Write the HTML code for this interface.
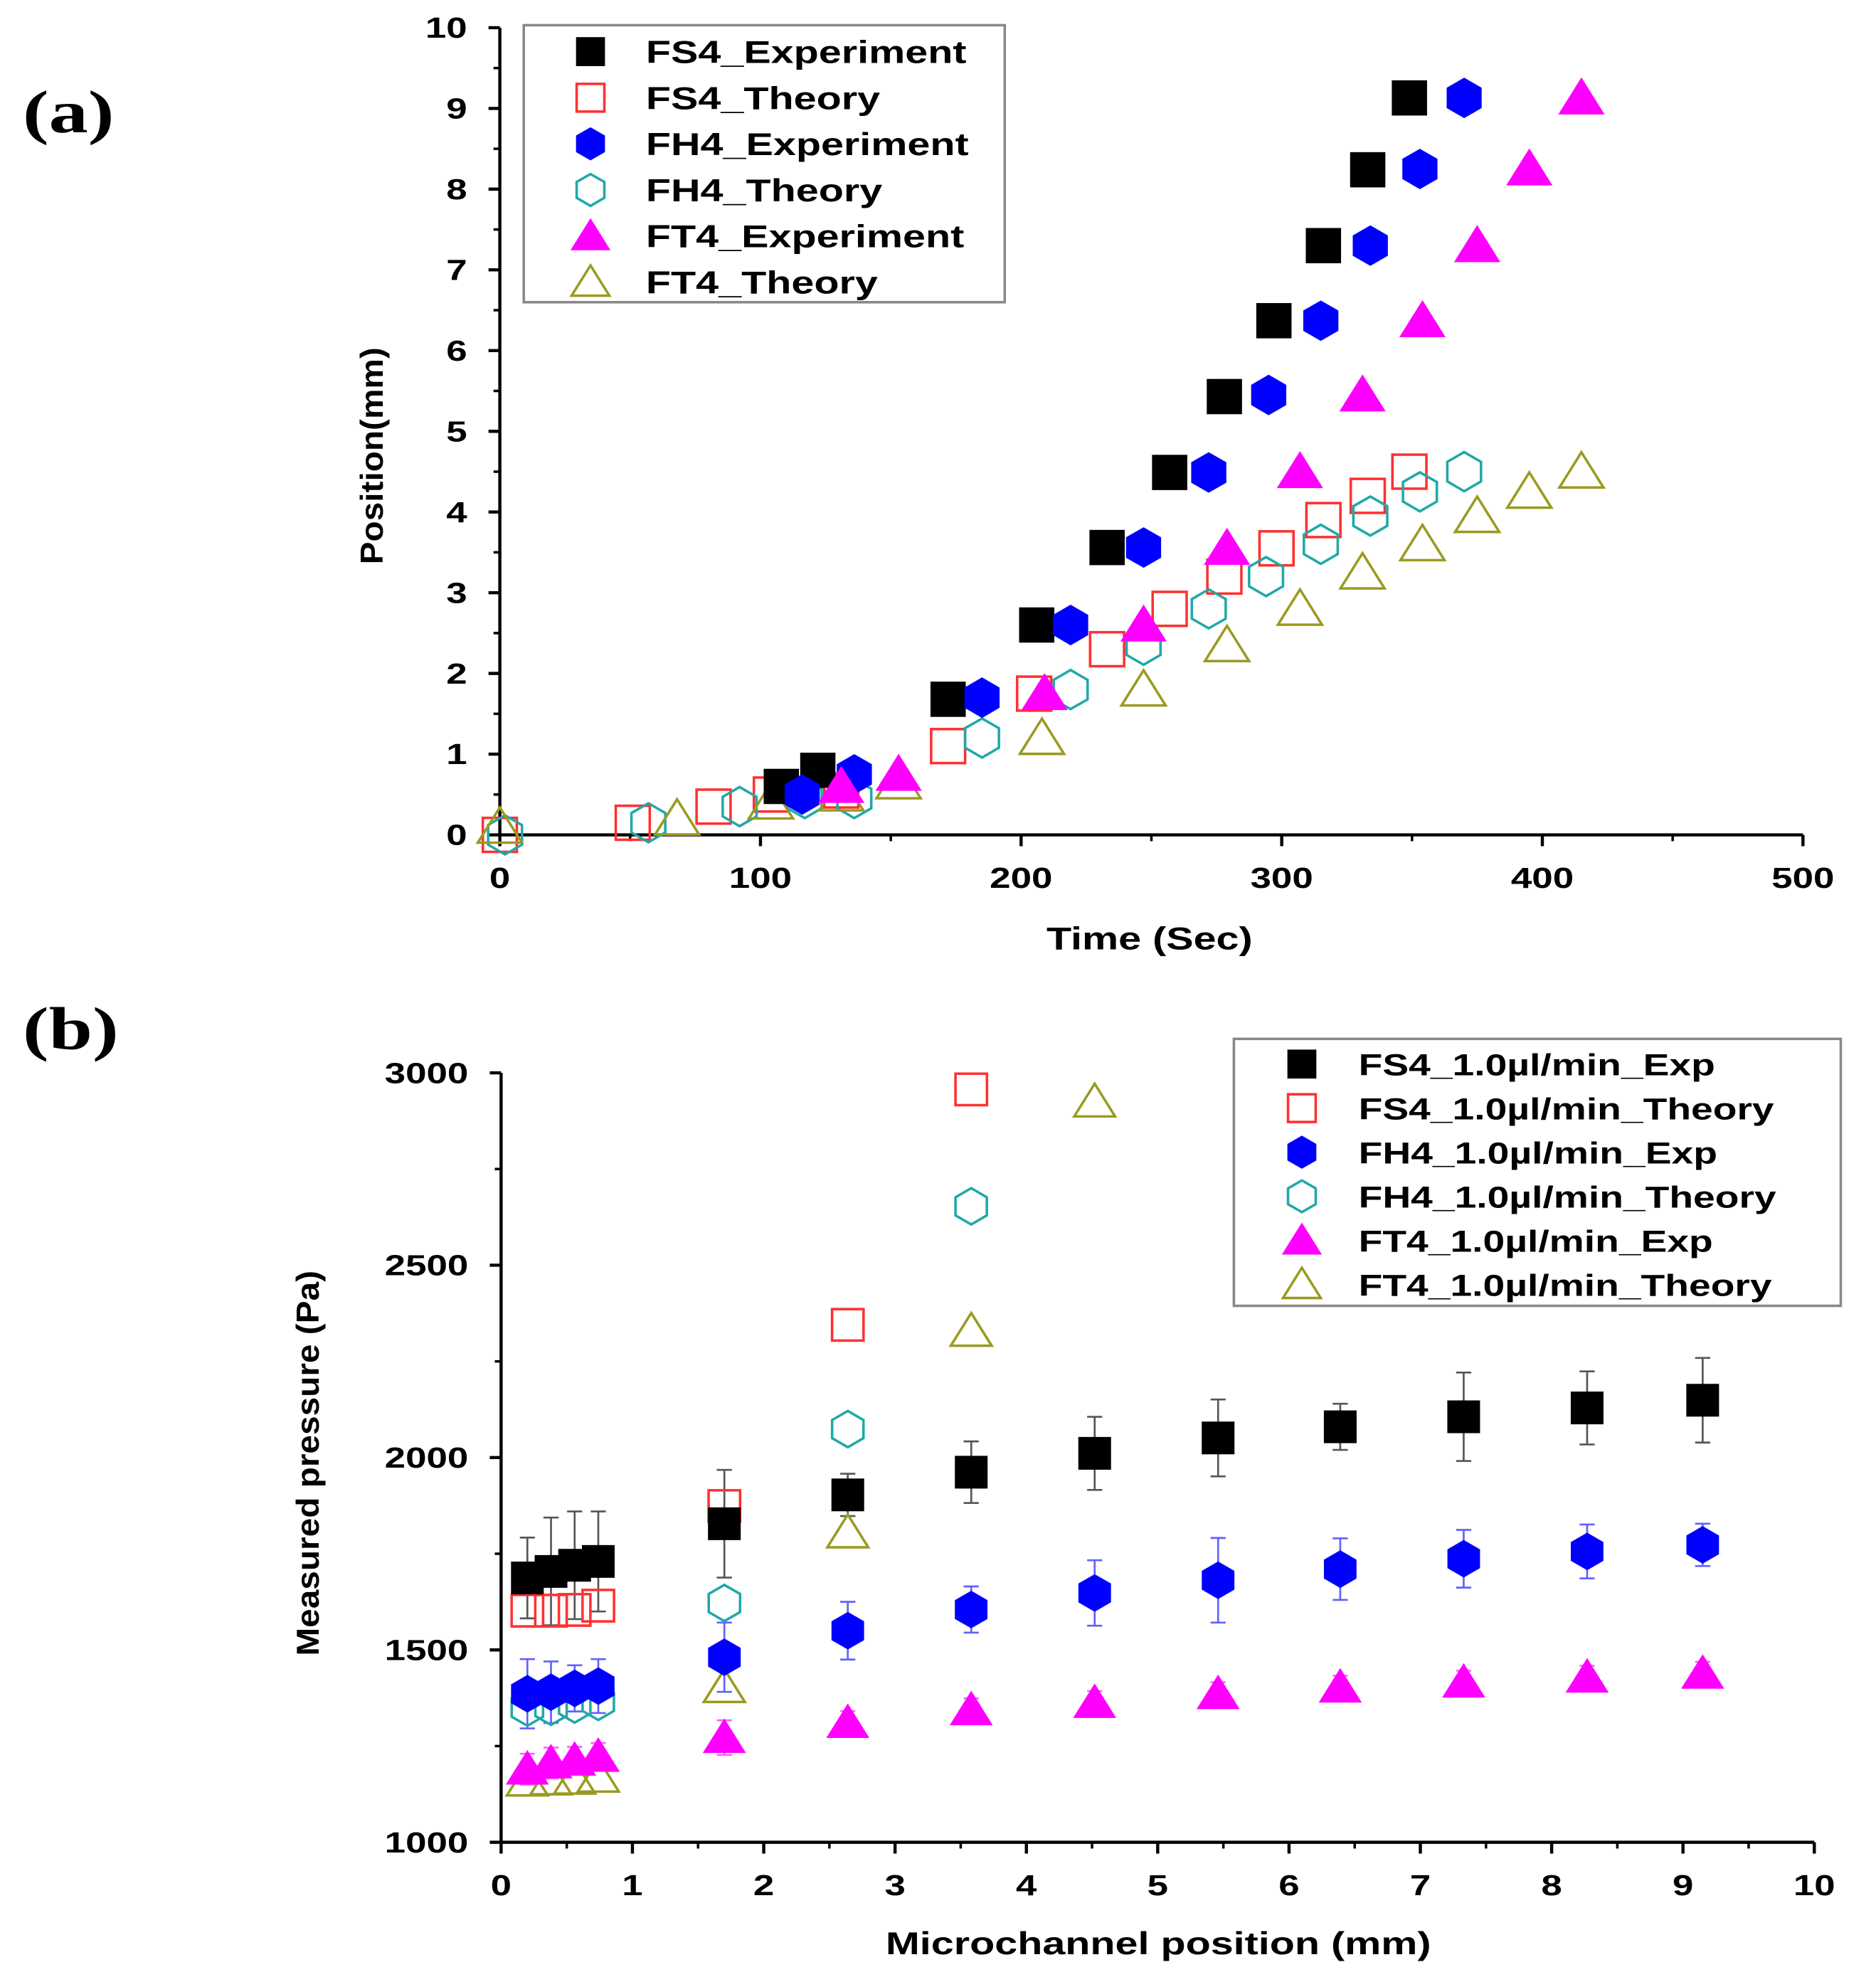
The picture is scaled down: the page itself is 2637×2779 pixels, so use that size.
<!DOCTYPE html>
<html><head><meta charset="utf-8"><style>
html,body{margin:0;padding:0;background:#fff}
svg{display:block}
text{font-family:"Liberation Sans",Arial,sans-serif;font-weight:bold;fill:#000}
</style></head><body>
<svg id="fig" width="2637" height="2779" viewBox="0 0 1490 1570" preserveAspectRatio="none" xmlns="http://www.w3.org/2000/svg">
<rect width="1490" height="1570" fill="#fff"/>
<text class="wide" x="18" y="105" style="font-family:'Liberation Serif',serif;font-size:48px">(a)</text>
<text class="wide" x="18" y="833" style="font-family:'Liberation Serif',serif;font-size:48px">(b)</text>
<g id="chartA"></g>
<g id="chartB"></g>
</svg>
<script>
// ---- Chart A data ----
const aXTicks=[0,100,200,300,400,500];
const aYTicks=[0,1,2,3,4,5,6,7,8,9,10];
const fs4ExpT=[108,122,172,206,233,257,278,297,316,333,349];
const fs4ExpP=[0.6,0.8,1.68,2.6,3.56,4.49,5.43,6.37,7.3,8.24,9.13];
const fs4ThT=[0,51,82,104,131,172,205,233,257,278,298,316,333,349];
const fs4ThP=[0,0.15,0.35,0.5,0.55,1.1,1.75,2.3,2.8,3.2,3.55,3.9,4.2,4.5];
const fh4ExpT=[116,136,185,219,247,272,295,315,334,353,370];
const fh4ExpP=[0.5,0.75,1.7,2.6,3.56,4.49,5.45,6.37,7.3,8.25,9.13];
const fh4ThT=[2,57,92,117,136,185,219,247,272,294,315,334,353,370];
const fh4ThP=[0,0.15,0.35,0.45,0.45,1.2,1.8,2.35,2.8,3.2,3.6,3.95,4.25,4.5];
const ft4ExpT=[131,153,209,247,279,307,331,354,375,395,415];
const ft4ExpP=[0.6,0.75,1.75,2.6,3.55,4.5,5.45,6.37,7.3,8.25,9.13];
const ft4ThT=[0,68,104,131,153,208,247,279,307,331,354,375,395,415];
const ft4ThP=[0.1,0.2,0.4,0.5,0.65,1.2,1.8,2.35,2.8,3.25,3.6,3.95,4.25,4.5];
// ---- Chart B data ----
const bXTicks=[0,1,2,3,4,5,6,7,8,9,10];
const bYTicks=[1000,1500,2000,2500,3000];
const bPos=[0.2,0.38,0.56,0.74,1.7,2.64,3.58,4.52,5.46,6.39,7.33,8.27,9.15];
const fs4ExpPa=[1687,1704,1720,1730,1828,1903,1962,2011,2051,2080,2106,2129,2149];
const fs4ExpErr=[105,140,140,130,140,55,80,95,100,60,115,95,110];
const fh4ExpPa=[1386,1390,1400,1406,1481,1550,1605,1648,1681,1710,1737,1756,1773];
const fh4ExpErr=[90,80,60,70,90,75,60,85,110,80,75,70,55];
const ft4ExpPa=[1190,1206,1213,1223,1272,1311,1344,1363,1386,1403,1416,1429,1439];
const ft4ExpErr=[40,40,35,35,45,30,30,30,30,30,30,30,30];
const bThPos=[0.2,0.38,0.56,0.74,1.7,2.64,3.58];
const fs4ThPa=[1602,1602,1604,1615,1874,2345,2957];
const fh4ThPa=[1350,1352,1358,1365,1622,2074,2653];
const ft4ThPos=[0.2,0.38,0.56,0.74,1.7,2.64,3.58,4.52];
const ft4ThPa=[1160,1163,1165,1170,1403,1805,2329,2925];

const NS="http://www.w3.org/2000/svg";
function mk(parent,tag,attrs){const e=document.createElementNS(NS,tag);for(const k in attrs)e.setAttribute(k,attrs[k]);parent.appendChild(e);return e;}
function marker(g,type,cx,cy,color,filled,r){
  let e;
  if(type==='sq'){e=mk(g,'rect',{x:cx-r,y:cy-r,width:2*r,height:2*r});}
  else if(type==='hex'){const p=[];for(let i=0;i<6;i++){const a=Math.PI/6+i*Math.PI/3;p.push((cx+r*1.15*Math.cos(a)).toFixed(1)+','+(cy+r*1.15*Math.sin(a)).toFixed(1));}e=mk(g,'polygon',{points:p.join(' ')});}
  else {e=mk(g,'polygon',{points:`${cx},${cy-r*1.1} ${cx-r*1.25},${cy+r*0.9} ${cx+r*1.25},${cy+r*0.9}`});}
  e.setAttribute('fill',filled?color:'none');e.setAttribute('stroke',color);e.setAttribute('stroke-width',filled?1:2);
  return e;
}
function wide(t){t.setAttribute('class','wide');return t;}
function axes(g,o){
  const {x0,x1,y0,y1,xt,yt,xs,ys,xminor,yminor,fs}=o;
  const ax=mk(g,'path',{d:`M${x0},${y1} L${x0},${y0} L${x1},${y0}`,fill:'none',stroke:'#000','stroke-width':2.5});
  
  xt.forEach((v,i)=>{const x=xs(v);mk(g,'line',{x1:x,x2:x,y1:y0,y2:y0+9,stroke:'#000','stroke-width':2.5});
    const t=wide(mk(g,'text',{x:x,y:y0+42,'text-anchor':'middle','font-size':fs}));t.textContent=v;
    
    if(i<xt.length-1){const xm=xs(v+xminor);mk(g,'line',{x1:xm,x2:xm,y1:y0,y2:y0+5,stroke:'#000','stroke-width':2});}});
  yt.forEach((v,i)=>{const y=ys(v);mk(g,'line',{x1:x0-9,x2:x0,y1:y,y2:y,stroke:'#000','stroke-width':2.5});
    const t=wide(mk(g,'text',{x:x0-26,y:y+8,'text-anchor':'end','font-size':fs}));t.textContent=v;
    
    if(i<yt.length-1){const ym=ys(v+yminor);mk(g,'line',{x1:x0-5,x2:x0,y1:ym,y2:ym,stroke:'#000','stroke-width':2});}});
}
function legend(g,bx,by,bw,bh,items,ly0,dy,mx,tx,fs){
  const lg=mk(g,'g',{});
  mk(lg,'rect',{x:bx,y:by,width:bw,height:bh,fill:'#fff',stroke:'#888','stroke-width':2});
  items.forEach((it,i)=>{const y=ly0+i*dy;const e=mk(lg,'g',{});
    
    marker(e,it[1],mx,y,it[2],it[3],it[1]==='tri'?12:11);
    const t=wide(mk(e,'text',{x:tx,y:y+9,'font-size':fs}));t.textContent=it[0];});
}
// ---- Chart A ----
(function(){
  const g=document.getElementById('chartA');
  const x0=397,x1=1432,y0=663,y1=22;
  const xs=v=>x0+(v-0)/500*(x1-x0), ys=v=>y0-(v/10)*(y0-y1);
  axes(g,{x0,x1,y0,y1,xt:aXTicks,yt:aYTicks,xs,ys,xminor:50,yminor:0.5,fs:23});
  let t=wide(mk(g,'text',{x:913,y:754,'text-anchor':'middle','font-size':25}));t.textContent='Time (Sec)';
  
  t=mk(g,'text',{x:0,y:0,'text-anchor':'middle','font-size':25,transform:'translate(304,362) rotate(-90)'});t.textContent='Position(mm)';
  
  const series=[[fs4ThT,fs4ThP,'sq','#ff3030',false],[fh4ThT,fh4ThP,'hex','#20a8a8',false],[ft4ThT,ft4ThP,'tri','#9a9a20',false],
    [fs4ExpT,fs4ExpP,'sq','#000',true],[fh4ExpT,fh4ExpP,'hex','#0000ff',true],[ft4ExpT,ft4ExpP,'tri','#ff00ff',true]];
  const names=['fs4-theory','fh4-theory','ft4-theory','fs4-experiment','fh4-experiment','ft4-experiment'];
  series.forEach((s,k)=>{const sg=mk(g,'g',{});
    s[0].forEach((tv,i)=>{const m=marker(sg,s[2],xs(tv),ys(s[1][i]),s[3],s[4],s[2]==='tri'?14:13.5);
      });});
  legend(g,416,20,382,220,[['FS4_Experiment','sq','#000',true],['FS4_Theory','sq','#ff3030',false],['FH4_Experiment','hex','#0000ff',true],
    ['FH4_Theory','hex','#20a8a8',false],['FT4_Experiment','tri','#ff00ff',true],['FT4_Theory','tri','#9a9a20',false]],41,36.6,469,513,25);
})();
// ---- Chart B ----
(function(){
  const g=document.getElementById('chartB');
  const x0=398,x1=1441,y0=1463,y1=852;
  const xs=v=>x0+v/10*(x1-x0), ys=v=>y0-(v-1000)/2000*(y0-y1);
  axes(g,{x0,x1,y0,y1,xt:bXTicks,yt:bYTicks,xs,ys,xminor:0.5,yminor:250,fs:23});
  let t=wide(mk(g,'text',{x:920,y:1552,'text-anchor':'middle','font-size':25}));t.textContent='Microchannel position (mm)';
  
  t=mk(g,'text',{x:0,y:0,'text-anchor':'middle','font-size':25,transform:'translate(253,1162) rotate(-90)'});t.textContent='Measured pressure (Pa)';
  
  const errs=[[fs4ExpPa,fs4ExpErr,'#555'],[fh4ExpPa,fh4ExpErr,'#6060ff'],[ft4ExpPa,ft4ExpErr,'#ff60ff']];
  errs.forEach(s=>{const eg=mk(g,'g',{});
    bPos.forEach((p,i)=>{const x=xs(p),yt=ys(s[0][i]+s[1][i]),yb=ys(s[0][i]-s[1][i]);
      mk(eg,'path',{d:`M${x},${yt} L${x},${yb} M${x-6},${yt} L${x+6},${yt} M${x-6},${yb} L${x+6},${yb}`,stroke:s[2],'stroke-width':1.5,fill:'none'});});});
  const series=[[bThPos,fs4ThPa,'sq','#ff3030',false],[bThPos,fh4ThPa,'hex','#20a8a8',false],[ft4ThPos,ft4ThPa,'tri','#9a9a20',false],
    [bPos,fs4ExpPa,'sq','#000',true],[bPos,fh4ExpPa,'hex','#0000ff',true],[bPos,ft4ExpPa,'tri','#ff00ff',true]];
  const names=['fs4-theory','fh4-theory','ft4-theory','fs4-exp','fh4-exp','ft4-exp'];
  series.forEach((s,k)=>{const sg=mk(g,'g',{});
    s[0].forEach((p,i)=>{const m=marker(sg,s[2],xs(p),ys(s[1][i]),s[3],s[4],s[2]==='tri'?13:12.5);
      });});
  legend(g,980,825,482,212,[['FS4_1.0\u00b5l/min_Exp','sq','#000',true],['FS4_1.0\u00b5l/min_Theory','sq','#ff3030',false],['FH4_1.0\u00b5l/min_Exp','hex','#0000ff',true],
    ['FH4_1.0\u00b5l/min_Theory','hex','#20a8a8',false],['FT4_1.0\u00b5l/min_Exp','tri','#ff00ff',true],['FT4_1.0\u00b5l/min_Theory','tri','#9a9a20',false]],845,35,1034,1079,24);
})();
// widen text to mimic the reference's wide bold face
document.querySelectorAll('text.wide').forEach(t=>{
  const w=t.getComputedTextLength();
  t.setAttribute('textLength',(w*1.3).toFixed(1));
  t.setAttribute('lengthAdjust','spacingAndGlyphs');
});
document.querySelectorAll('text:not(.wide)').forEach(t=>{
  const w=t.getComputedTextLength();
  t.setAttribute('textLength',(w*1.08).toFixed(1));
  t.setAttribute('lengthAdjust','spacingAndGlyphs');
});
</script>
</body></html>
